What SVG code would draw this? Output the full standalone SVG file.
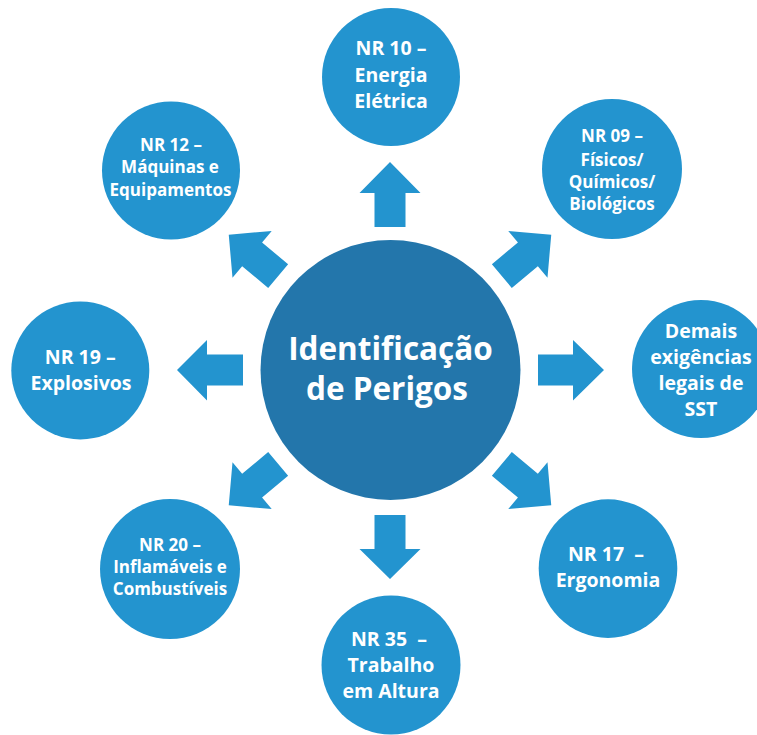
<svg xmlns="http://www.w3.org/2000/svg" width="757" height="735" viewBox="0 0 757 735">
<defs>
<style>
.outer{fill:#2394cf}
.center{fill:#2376ab}
.arrow{fill:#2394cf}
text{fill:#ffffff;font-family:"Open Sans","Noto Sans","DejaVu Sans",sans-serif;text-anchor:middle}
.lg{font-size:19.5px;font-weight:700}
.sm{font-size:17px;font-weight:700}
.ct{font-size:31.5px;font-weight:700}
</style>
<polygon id="arr" points="146,-15.5 180,-15.5 180,-30.5 210.5,0 180,30.5 180,15.5 146,15.5"/>
</defs>
<rect width="757" height="735" fill="#ffffff"/>
<g id="connectors" class="arrow">
<polygon points="374.5,227 374.5,193 359.5,193 390,162 420.5,193 405.5,193 405.5,227"/>
<polygon points="374.5,515 374.5,549 359.5,549 390,579 420.5,549 405.5,549 405.5,515"/>
<polygon points="538,354.5 573,354.5 573,340 604,370 573,400.5 573,385.5 538,385.5"/>
<polygon points="243,354.5 207,354.5 207,340 177,370 207,400.5 207,385.5 243,385.5"/>
<use href="#arr" transform="translate(390,370) rotate(-40)"/>
<use href="#arr" transform="translate(390,370) rotate(40)"/>
<use href="#arr" transform="translate(390,370) rotate(140)"/>
<use href="#arr" transform="translate(390,370) rotate(-140)"/>
</g>
<g id="center-node">
<circle class="center" cx="390.5" cy="370" r="130"/>
<text class="ct" x="390.5" y="360">Identificação</text>
<text class="ct" x="387" y="400">de Perigos</text>
</g>
<g id="nr10">
<circle class="outer" cx="391" cy="77" r="69"/>
<text class="lg" x="391" y="55">NR 10 –</text>
<text class="lg" x="391" y="81.7">Energia</text>
<text class="lg" x="391" y="108.3">Elétrica</text>
</g>
<g id="nr09">
<circle class="outer" cx="612" cy="169" r="70"/>
<text class="sm" x="612" y="141.7">NR 09 –</text>
<text class="sm" x="612" y="166">Físicos/</text>
<text class="sm" x="612" y="188.3">Químicos/</text>
<text class="sm" x="612" y="210">Biológicos</text>
</g>
<g id="demais">
<circle class="outer" cx="701" cy="369" r="69"/>
<text class="lg" x="701" y="338.3">Demais</text>
<text class="lg" x="701" y="364">exigências</text>
<text class="lg" x="701" y="390">legais de</text>
<text class="lg" x="701" y="416">SST</text>
</g>
<g id="nr17">
<circle class="outer" cx="608" cy="568.6" r="69.3"/>
<text class="lg" x="606" y="561">NR 17&#160; –</text>
<text class="lg" x="608" y="586.7">Ergonomia</text>
</g>
<g id="nr35">
<circle class="outer" cx="391" cy="665" r="69.5"/>
<text class="lg" x="389" y="646">NR 35&#160; –</text>
<text class="lg" x="391" y="671.7">Trabalho</text>
<text class="lg" x="391" y="698.3">em Altura</text>
</g>
<g id="nr20">
<circle class="outer" cx="170" cy="569" r="70"/>
<text class="sm" x="170" y="550.7">NR 20 –</text>
<text class="sm" x="170" y="573.3">Inflamáveis e</text>
<text class="sm" x="170" y="595">Combustíveis</text>
</g>
<g id="nr19">
<circle class="outer" cx="80.3" cy="370.4" r="69"/>
<text class="lg" x="80.3" y="364">NR 19 –</text>
<text class="lg" x="81" y="390">Explosivos</text>
</g>
<g id="nr12">
<circle class="outer" cx="171" cy="170.5" r="69"/>
<text class="sm" x="171" y="151">NR 12 –</text>
<text class="sm" x="170" y="173.3">Máquinas e</text>
<text class="sm" x="170.5" y="196">Equipamentos</text>
</g>
</svg>
